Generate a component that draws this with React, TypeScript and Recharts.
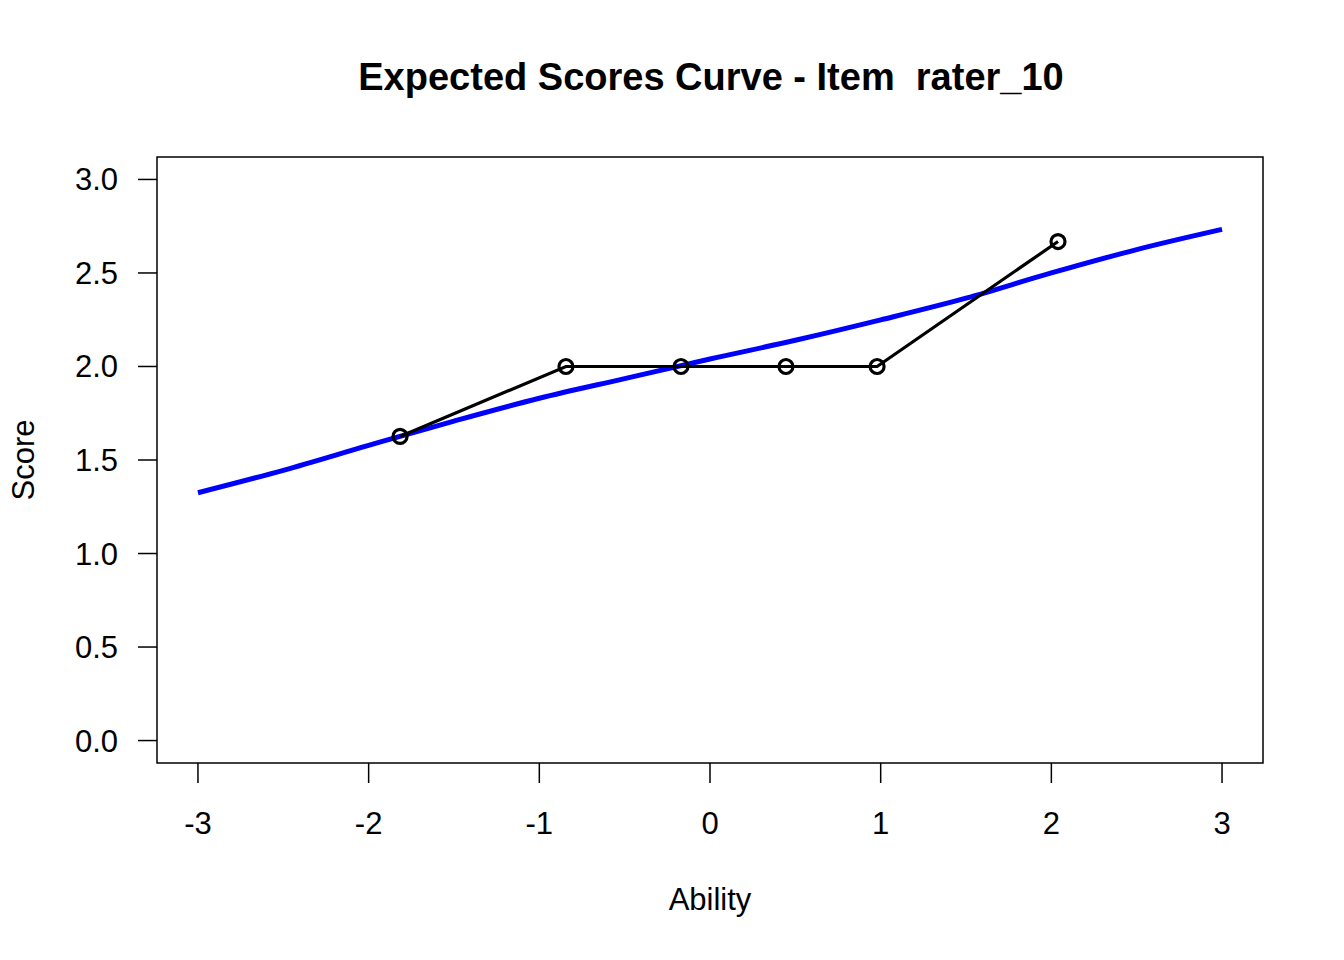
import { ComposedChart, Line, XAxis, YAxis, ReferenceArea } from 'recharts';

// expected score curve (blue)
const curveAbility = [-3, -2.5, -2, -1.5, -1, -0.5, 0, 0.5, 1, 1.5, 2, 2.5, 3];
const curveScore = [1.325, 1.445, 1.578, 1.708, 1.83, 1.935, 2.04, 2.14, 2.249, 2.365, 2.5, 2.625, 2.733];

// observed points (black)
const obsAbility = [-1.816, -0.844, -0.17, 0.445, 0.979, 2.039];
const obsScore = [1.626, 2.0, 2.0, 2.0, 2.0, 2.668];

const xTicks = [-3, -2, -1, 0, 1, 2, 3];
const yTicks = [0, 0.5, 1, 1.5, 2, 2.5, 3];

const curveData = curveAbility.map((x, i) => ({ x, y: curveScore[i] }));
const obsData = obsAbility.map((x, i) => ({ x, y: obsScore[i] }));

const FONT = '"Liberation Sans", Arial, Helvetica, sans-serif';

export default function App() {
  return (
    <div style={{ position: 'absolute', left: 0, top: 0, width: 1344, height: 960, background: '#fff', fontFamily: FONT }}>
      <ComposedChart width={1344} height={960} margin={{ top: 157, right: 81, bottom: 97, left: 0 }}>
        <XAxis
          type="number"
          dataKey="x"
          domain={[-3.24, 3.24]}
          ticks={xTicks}
          allowDataOverflow
          axisLine={false}
          tickSize={20}
          tickMargin={29}
          height={100}
          tickLine={{ stroke: '#000', strokeWidth: 1.5 }}
          tick={{ fill: '#000', fontSize: 31, fontFamily: FONT }}
        />
        <YAxis
          type="number"
          dataKey="y"
          domain={[-0.12, 3.12]}
          ticks={yTicks}
          allowDataOverflow
          axisLine={false}
          width={157}
          tickSize={19}
          tickMargin={20}
          tickFormatter={(v: number) => v.toFixed(1)}
          tickLine={{ stroke: '#000', strokeWidth: 1.5 }}
          tick={{ fill: '#000', fontSize: 31, fontFamily: FONT }}
        />
        <ReferenceArea x1={-3.24} x2={3.24} y1={-0.12} y2={3.12} fill="none" fillOpacity={0} stroke="#000" strokeWidth={1.5} ifOverflow="extendDomain" />
        <Line
          data={curveData}
          dataKey="y"
          type="monotone"
          stroke="#0000ff"
          strokeWidth={5}
          dot={false}
          isAnimationActive={false}
        />
        <Line
          data={obsData}
          dataKey="y"
          type="linear"
          stroke="#000"
          strokeWidth={3.2}
          dot={{ r: 7, stroke: '#000', strokeWidth: 3.2, fill: 'none' }}
          isAnimationActive={false}
        />
      </ComposedChart>
      <div style={{ position: 'absolute', left: 0, width: 1422, top: 56, textAlign: 'center', fontSize: 38, fontWeight: 'bold', whiteSpace: 'pre' }}>
        {'Expected Scores Curve - Item  rater_10'}
      </div>
      <div style={{ position: 'absolute', left: 610, width: 200, top: 882, textAlign: 'center', fontSize: 31 }}>
        Ability
      </div>
      <div style={{ position: 'absolute', left: 24, top: 460, width: 0, height: 0 }}>
        <div style={{ position: 'absolute', left: -100, top: -18, width: 200, textAlign: 'center', fontSize: 31, transform: 'rotate(-90deg)' }}>
          Score
        </div>
      </div>
    </div>
  );
}
